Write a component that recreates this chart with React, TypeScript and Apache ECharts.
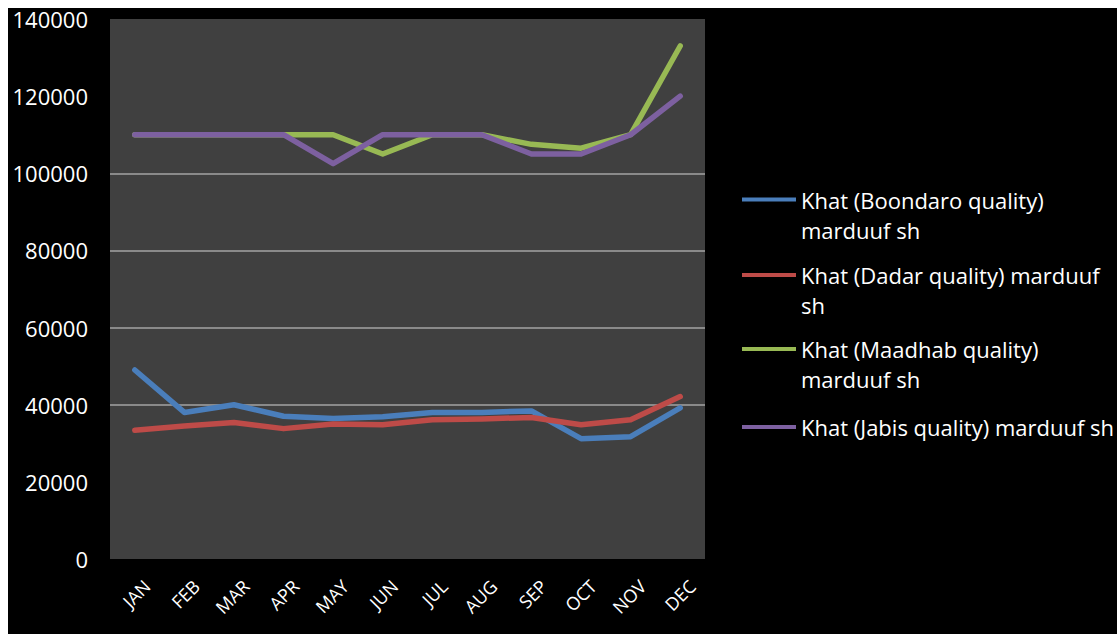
import React, { useEffect, useRef } from "react";
import * as echarts from "echarts";

const months = ["JAN", "FEB", "MAR", "APR", "MAY", "JUN", "JUL", "AUG", "SEP", "OCT", "NOV", "DEC"];
const boondaro = [49000, 38000, 40000, 37000, 36400, 36900, 38000, 38000, 38400, 31200, 31700, 39200];
const dadar = [33400, 34500, 35400, 33800, 35000, 34800, 36100, 36300, 36700, 34800, 36100, 42100];
const maadhab = [110000, 110000, 110000, 110000, 110000, 105000, 110000, 110000, 107500, 106500, 110000, 133000];
const jabis = [110000, 110000, 110000, 110000, 102500, 110000, 110000, 110000, 105000, 105000, 110000, 120000];

const names = [
  "Khat (Boondaro quality) marduuf sh",
  "Khat (Dadar quality) marduuf sh",
  "Khat (Maadhab quality) marduuf sh",
  "Khat (Jabis quality) marduuf sh",
];
const legendLabels = [
  "\nKhat (Boondaro quality)\nmarduuf sh",
  "\nKhat (Dadar quality) marduuf\nsh",
  "\nKhat (Maadhab quality)\nmarduuf sh",
  "Khat (Jabis quality) marduuf sh",
];
const colors = ["#4a7ebb", "#be4b48", "#98b954", "#7d60a0"];
const seriesData = [boondaro, dadar, maadhab, jabis];
// gridlines shown only at 40000..100000
const gridColors = ["rgba(0,0,0,0)", "rgba(0,0,0,0)", "#8a8a8a", "#8a8a8a", "#8a8a8a", "#8a8a8a", "rgba(0,0,0,0)", "rgba(0,0,0,0)"];

export default function App() {
  const ref = useRef<HTMLDivElement>(null);
  useEffect(() => {
    const chart = echarts.init(ref.current!, undefined, { renderer: "svg" });
    const font = "'Open Sans', sans-serif";
    const legendCenters = [191.5, 267, 341, 419];
    chart.setOption({
      animation: false,
      backgroundColor: "#000000",
      textStyle: { fontFamily: font },
      grid: {
        left: 102,
        right: 412,
        top: 8,
        bottom: 75,
        show: true,
        backgroundColor: "#404040",
        borderWidth: 0,
      },
      legend: names.map((n, i) => ({
        data: [{ name: n, icon: "rect" }],
        orient: "vertical",
        left: 729,
        top: legendCenters[i] - 5 - (i < 3 ? 45 : 15),
        padding: 5,
        itemWidth: 54,
        itemHeight: 4,
        itemGap: 0,
        formatter: () => legendLabels[i],
        textStyle: { color: "#ffffff", fontSize: 22, lineHeight: 30, fontFamily: font },
      })),
      xAxis: {
        type: "category",
        data: months,
        boundaryGap: true,
        axisLine: { show: false },
        axisTick: { show: false },
        axisLabel: {
          color: "#ffffff",
          fontSize: 18,
          rotate: 45,
          interval: 0,
          margin: 12,
          verticalAlign: "top",
          lineHeight: 34,
          fontFamily: font,
        },
      },
      yAxis: {
        type: "value",
        min: 0,
        max: 140000,
        interval: 20000,
        axisLine: { show: false },
        axisTick: { show: false },
        axisLabel: {
          color: "#ffffff",
          fontSize: 22,
          margin: 22,
          fontFamily: font,
          formatter: (v: number) => String(v),
        },
        splitLine: { show: true, lineStyle: { color: gridColors, width: 2 } },
      },
      series: names.map((n, i) => ({
        name: n,
        type: "line",
        data: seriesData[i],
        symbol: "none",
        color: colors[i],
        lineStyle: { width: 5.5, color: colors[i], cap: "round", join: "round" },
      })),
    });
    return () => chart.dispose();
  }, []);
  return (
    <div
      ref={ref}
      style={{ position: "absolute", left: 8, top: 8, width: 1109, height: 626 }}
    />
  );
}
